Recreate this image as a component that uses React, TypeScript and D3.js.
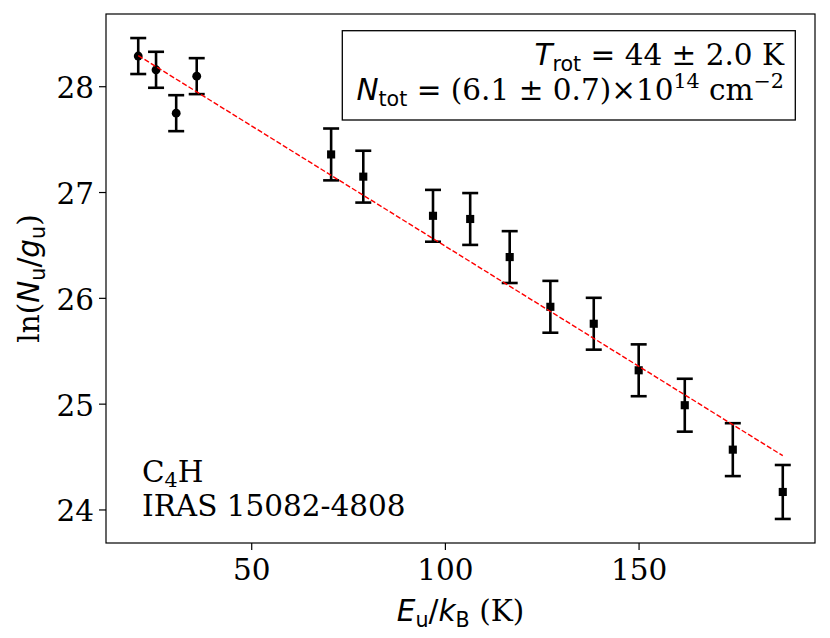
import React from "react";
import * as d3 from "d3";

// rotation diagram of C4H
const energies = [20.7, 25.3, 30.5, 35.8, 70.5, 78.8, 96.8, 106.4, 116.6, 127.1, 138.3, 149.9, 161.8, 174.2, 187.1];
const lnNg = [28.29, 28.16, 27.75, 28.1, 27.36, 27.15, 26.78, 26.75, 26.39, 25.92, 25.76, 25.32, 24.99, 24.57, 24.17];
const errs = [0.17, 0.17, 0.17, 0.17, 0.245, 0.245, 0.245, 0.245, 0.245, 0.245, 0.245, 0.245, 0.25, 0.25, 0.255];
const markers = ["circle", "circle", "circle", "circle", "square", "square", "square", "square", "square", "square", "square", "square", "square", "square", "square"];

const fitSlope = -1 / 44;
const fitIntercept = 28.765;

const xTicks = [50, 100, 150];
const yTicks = [24, 25, 26, 27, 28];

const W = 830;
const H = 638;
const left = 106;
const right = 815;
const top = 14;
const bottom = 543;

const SERIF = "DejaVu Serif";
const SANS = "DejaVu Sans";
const FS = 29.5;

const App: React.FC = () => {
    // matplotlib style 5% margins
    const xMin = d3.min(energies)!;
    const xMax = d3.max(energies)!;
    const xPad = (xMax - xMin) * 0.05;
    const yLo = d3.min(lnNg.map((v, i) => v - errs[i]))!;
    const yHi = d3.max(lnNg.map((v, i) => v + errs[i]))!;
    const yPad = (yHi - yLo) * 0.05;

    const x = d3.scaleLinear().domain([xMin - xPad, xMax + xPad]).range([left, right]);
    const y = d3.scaleLinear().domain([yLo - yPad, yHi + yPad]).range([bottom, top]);

    const fitLine = d3
        .line<number>()
        .x((e) => x(e))
        .y((e) => y(fitIntercept + fitSlope * e));

    const circle = d3.symbol(d3.symbolCircle, 62)()!;
    const square = d3.symbol(d3.symbolSquare, 66)()!;

    const cap = 8;
    const sub = 5.5;
    const sup = 12.5;

    return (
        <svg width={W} height={H} style={{ position: "absolute", left: 0, top: 0, background: "#fff" }}>
            <rect x={0} y={0} width={W} height={H} fill="#fff" />

            {/* error bars */}
            {energies.map((e, i) => {
                const cx = x(e);
                const y0 = y(lnNg[i] - errs[i]);
                const y1 = y(lnNg[i] + errs[i]);
                return (
                    <g key={"eb" + i} stroke="#000" strokeWidth={2.6}>
                        <line x1={cx} x2={cx} y1={y0} y2={y1} />
                        <line x1={cx - cap} x2={cx + cap} y1={y0} y2={y0} />
                        <line x1={cx - cap} x2={cx + cap} y1={y1} y2={y1} />
                    </g>
                );
            })}

            {energies.map((e, i) => (
                <path
                    key={"m" + i}
                    d={markers[i] === "circle" ? circle : square}
                    transform={`translate(${x(e)},${y(lnNg[i])})`}
                    fill="#000"
                />
            ))}

            {/* fit */}
            <path
                d={fitLine([xMin, xMax]) || ""}
                fill="none"
                stroke="#ff0000"
                strokeWidth={1.4}
                strokeDasharray="5.2,2.2"
            />

            {/* axes frame */}
            <rect x={left} y={top} width={right - left} height={bottom - top} fill="none" stroke="#000" strokeWidth={1.2} />

            {xTicks.map((t) => (
                <g key={"xt" + t}>
                    <line x1={x(t)} x2={x(t)} y1={bottom} y2={bottom + 7} stroke="#000" strokeWidth={1.2} />
                    <text x={x(t)} y={580} textAnchor="middle" fontFamily={SERIF} fontSize={FS}>
                        {t}
                    </text>
                </g>
            ))}
            {yTicks.map((t) => (
                <g key={"yt" + t}>
                    <line x1={left - 7} x2={left} y1={y(t)} y2={y(t)} stroke="#000" strokeWidth={1.2} />
                    <text x={94} y={y(t) + 11.5} textAnchor="end" fontFamily={SERIF} fontSize={FS}>
                        {t}
                    </text>
                </g>
            ))}

            {/* x label */}
            <text x={(left + right) / 2} y={621} textAnchor="middle" fontSize={FS}>
                <tspan fontFamily={SANS} fontStyle="italic">E</tspan>
                <tspan fontFamily={SANS} fontSize={FS * 0.7} dy={sub}>u</tspan>
                <tspan fontFamily={SANS} dy={-sub}>/</tspan>
                <tspan fontFamily={SANS} fontStyle="italic">k</tspan>
                <tspan fontFamily={SANS} fontSize={FS * 0.7} dy={sub}>B</tspan>
                <tspan fontFamily={SERIF} dy={-sub}> (K)</tspan>
            </text>

            {/* y label */}
            <text
                transform={`translate(39,${(top + bottom) / 2}) rotate(-90)`}
                textAnchor="middle"
                fontSize={FS}
            >
                <tspan fontFamily={SERIF}>ln(</tspan>
                <tspan fontFamily={SANS} fontStyle="italic">N</tspan>
                <tspan fontFamily={SANS} fontSize={FS * 0.7} dy={sub}>u</tspan>
                <tspan fontFamily={SANS} dy={-sub}>/</tspan>
                <tspan fontFamily={SANS} fontStyle="italic">g</tspan>
                <tspan fontFamily={SANS} fontSize={FS * 0.7} dy={sub}>u</tspan>
                <tspan fontFamily={SERIF} dy={-sub}>)</tspan>
            </text>

            {/* result box */}
            <rect x={342.3} y={30.7} width={453} height={89.3} fill="#fff" stroke="#000" strokeWidth={1.3} />
            <text x={784} y={65} textAnchor="end" fontSize={FS}>
                <tspan fontFamily={SANS} fontStyle="italic">T</tspan>
                <tspan fontFamily={SANS} fontSize={FS * 0.7} dy={sub}>rot</tspan>
                <tspan fontFamily={SANS} dy={-sub}> = </tspan>
                <tspan fontFamily={SERIF}>44 ± 2.0 K</tspan>
            </text>
            <text x={784} y={100} textAnchor="end" fontSize={FS}>
                <tspan fontFamily={SANS} fontStyle="italic">N</tspan>
                <tspan fontFamily={SANS} fontSize={FS * 0.7} dy={sub}>tot</tspan>
                <tspan fontFamily={SANS} dy={-sub}> = </tspan>
                <tspan fontFamily={SERIF}>(6.1 ± 0.7)×10</tspan>
                <tspan fontFamily={SERIF} fontSize={FS * 0.7} dy={-sup}>14</tspan>
                <tspan fontFamily={SERIF} dy={sup}> cm</tspan>
                <tspan fontFamily={SERIF} fontSize={FS * 0.7} dy={-sup}>−2</tspan>
            </text>

            {/* species / source */}
            <text x={142} y={481.7} fontFamily={SERIF} fontSize={FS}>
                C<tspan fontSize={FS * 0.7} dy={sub}>4</tspan>
                <tspan dy={-sub}>H</tspan>
            </text>
            <text x={142} y={516} fontFamily={SERIF} fontSize={FS}>
                IRAS 15082-4808
            </text>
        </svg>
    );
};

export default App;
